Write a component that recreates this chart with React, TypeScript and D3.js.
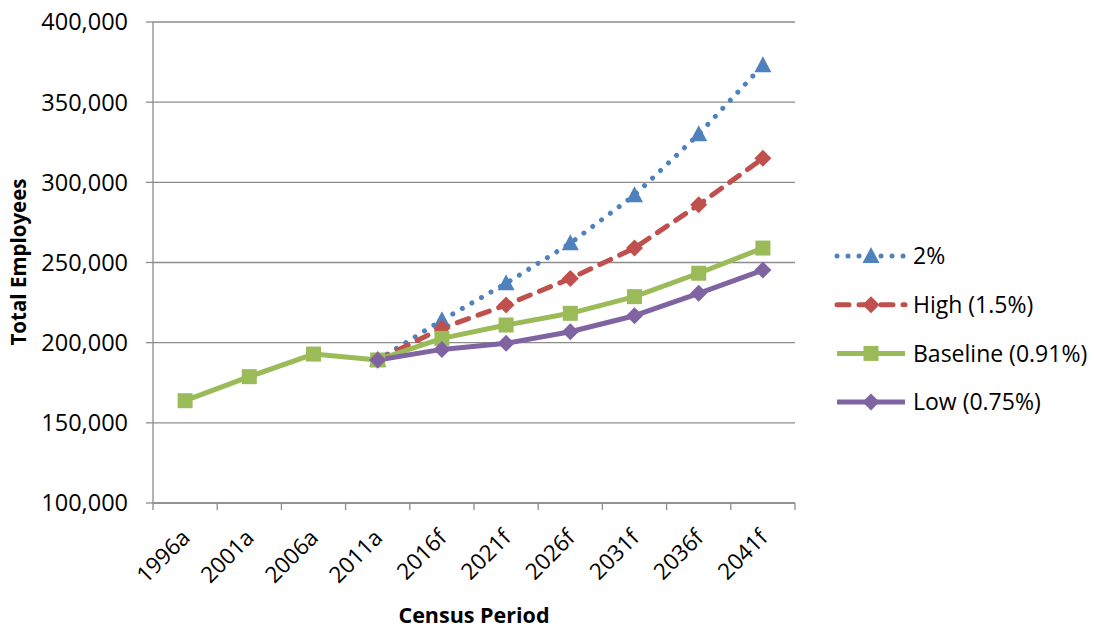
import React from "react";
import * as d3 from "d3";

const categories = ["1996a", "2001a", "2006a", "2011a", "2016f", "2021f", "2026f", "2031f", "2036f", "2041f"];
const yTicks = [100000, 150000, 200000, 250000, 300000, 350000, 400000];

const twoPct: (number | null)[] = [null, null, null, 189200, 214000, 237000, 262000, 292000, 330000, 373000];
const high: (number | null)[] = [null, null, null, 189200, 209000, 223500, 240000, 259000, 286000, 315000];
const baseline: (number | null)[] = [163800, 178800, 192900, 189200, 202700, 211000, 218300, 228700, 243300, 259000];
const low: (number | null)[] = [null, null, null, 189200, 195800, 199600, 206800, 216800, 230800, 245300];

const seriesNames = ["2%", "High (1.5%)", "Baseline (0.91%)", "Low (0.75%)"];

const W = 1096;
const H = 629;
const left = 153;
const right = 795;
const top = 22;
const bottom = 503;

const styles = [
  { color: "#4F81BD", dash: "0.01 11", width: 5, marker: "triangle", data: twoPct },
  { color: "#C0504D", dash: "12 10", width: 5, marker: "diamond", data: high },
  { color: "#9BBB59", dash: "", width: 5, marker: "square", data: baseline },
  { color: "#8064A2", dash: "", width: 5, marker: "diamond", data: low },
];

function Marker({ type, x, y, color }: { type: string; x: number; y: number; color: string }) {
  if (type === "square") {
    return <rect x={x - 7.5} y={y - 7.5} width={15} height={15} fill={color} />;
  }
  if (type === "triangle") {
    return <path d={`M${x},${y - 9} L${x + 8.5},${y + 7} L${x - 8.5},${y + 7} Z`} fill={color} />;
  }
  return <path d={`M${x},${y - 8.5} L${x + 8.5},${y} L${x},${y + 8.5} L${x - 8.5},${y} Z`} fill={color} />;
}

export default function App() {
  const x = d3.scaleBand<string>().domain(categories).range([left, right]);
  const y = d3.scaleLinear().domain([100000, 400000]).range([bottom, top]);
  const cx = (c: string) => (x(c) as number) + x.bandwidth() / 2;
  const fmt = d3.format(",");
  const font = "'Open Sans', sans-serif";
  const grid = "#8c8c8c";

  const line = d3
    .line<number | null>()
    .defined((d) => d !== null)
    .x((_, i) => cx(categories[i]))
    .y((d) => y(d as number));

  const boundaries = categories.map((c) => x(c) as number).concat([right]);

  return (
    <svg width={W} height={H} style={{ position: "absolute", left: 0, top: 0, background: "#fff" }}>
      {yTicks.map((t) => (
        <line key={t} x1={left} x2={right} y1={y(t)} y2={y(t)} stroke={grid} strokeWidth={1.3} />
      ))}
      <line x1={left} x2={left} y1={top} y2={bottom} stroke={grid} strokeWidth={1.3} />
      {yTicks.map((t) => (
        <g key={"yt" + t}>
          <line x1={left - 7} x2={left} y1={y(t)} y2={y(t)} stroke={grid} strokeWidth={1.3} />
          <text x={128} y={y(t)} dy="0.36em" textAnchor="end" fontFamily={font} fontSize={23.5} fill="#000">
            {fmt(t)}
          </text>
        </g>
      ))}
      {boundaries.map((b, i) => (
        <line key={"xt" + i} x1={b} x2={b} y1={bottom} y2={bottom + 7} stroke={grid} strokeWidth={1.3} />
      ))}
      {categories.map((c) => (
        <text
          key={"xl" + c}
          transform={`translate(${cx(c) - 5},${528}) rotate(-45)`}
          dy="0.7em"
          textAnchor="end"
          fontFamily={font}
          fontSize={22.5}
          fill="#000"
        >
          {c}
        </text>
      ))}
      {styles.map((s, i) => (
        <path
          key={"l" + i}
          d={line(s.data) || ""}
          fill="none"
          stroke={s.color}
          strokeWidth={s.width}
          strokeDasharray={s.dash || undefined}
          strokeLinecap={s.dash ? "round" : "butt"}
          strokeLinejoin="round"
        />
      ))}
      {styles.map((s, i) =>
        s.data.map((d, j) =>
          d === null ? null : <Marker key={`m${i}-${j}`} type={s.marker} x={cx(categories[j])} y={y(d)} color={s.color} />
        )
      )}
      <line x1={left} x2={right} y1={bottom} y2={bottom} stroke={grid} strokeWidth={1.3} />
      <text x={(left + right) / 2} y={623} textAnchor="middle" fontFamily={font} fontWeight="bold" fontSize={21.5} fill="#000">
        Census Period
      </text>
      <text
        transform={`translate(26,${262}) rotate(-90)`}
        textAnchor="middle"
        fontFamily={font}
        fontWeight="bold"
        fontSize={20.5}
        fill="#000"
      >
        Total Employees
      </text>
      {styles.map((s, i) => {
        const ly = 256 + i * 48.7;
        return (
          <g key={"lg" + i}>
            <line
              x1={837}
              x2={905}
              y1={ly}
              y2={ly}
              stroke={s.color}
              strokeWidth={s.width}
              strokeDasharray={s.dash || undefined}
              strokeLinecap={s.dash ? "round" : "butt"}
            />
            <Marker type={s.marker} x={871} y={ly} color={s.color} />
            <text x={913} y={ly} dy="0.36em" fontFamily={font} fontSize={23} fill="#000">
              {seriesNames[i]}
            </text>
          </g>
        );
      })}
    </svg>
  );
}
